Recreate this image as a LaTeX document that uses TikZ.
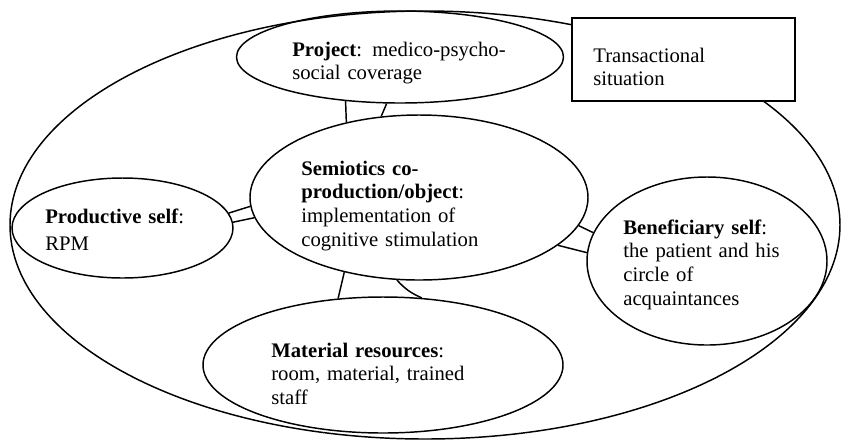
\documentclass[tikz,border=0pt]{standalone}
\usepackage{fontspec}
\setmainfont{Liberation Serif}
\usetikzlibrary{shapes.geometric}
\newcommand{\pxunit}{0.58pt}
\tikzset{
  bubble/.style={draw, ellipse, inner sep=0pt, line width=0.85pt},
  sitbox/.style={draw, rectangle, fill=white, inner sep=0pt, line width=0.85pt},
  lbl/.style={anchor=base west, inner sep=0pt, align=left, text width=140pt,
    font=\fontsize{12}{13.9}\selectfont},
  link/.style={line width=0.85pt}
}
\begin{document}
\begin{tikzpicture}[x=\pxunit, y=-\pxunit]
\useasboundingbox (0,0) rectangle (842,441);
\node[bubble, minimum width=830*\pxunit, minimum height=428*\pxunit] (situation) at (425,225) {};
\node[bubble, minimum width=327*\pxunit, minimum height=92*\pxunit] (project) at (400,57) {};
\node[bubble, minimum width=338*\pxunit, minimum height=165*\pxunit] (semio) at (419,197.5) {};
\node[bubble, minimum width=221*\pxunit, minimum height=100*\pxunit] (prod) at (122.5,228) {};
\node[bubble, minimum width=240*\pxunit, minimum height=168*\pxunit] (benef) at (707,261) {};
\node[bubble, minimum width=360*\pxunit, minimum height=136*\pxunit] (mat) at (383,365) {};
\node[sitbox, minimum width=223*\pxunit, minimum height=83*\pxunit] (trans) at (683.5,59.5) {};

\node[lbl] (projecttxt) at (292,56) {\textbf{Project}: medico-psycho-\\social coverage};
\node[lbl] (transtxt) at (593,62) {Transactional\\situation};
\node[lbl] (semiotxt) at (301,175) {\textbf{Semiotics co-}\\\textbf{production/object}:\\implementation of\\cognitive stimulation};
\node[lbl] (prodtxt) at (45,223) {\textbf{Productive self}:\\[2.3pt]RPM};
\node[lbl] (beneftxt) at (623,234) {\textbf{Beneficiary self}:\\the patient and his\\circle of\\acquaintances};
\node[lbl] (mattxt) at (271,357) {\textbf{Material resources}:\\room, material, trained\\staff};

\draw[link] (project.219) -- (semio.134);
\draw[link] (project.254) -- (semio.115);
\draw[link] (prod.8) -- (semio.183);
\draw[link] (prod.3) -- (semio.187);
\draw[link] (semio.350) -- (benef.166);
\draw[link] (semio.341) -- (benef.176);
\draw[link] (semio.225) -- (mat.124);
\draw[link] (semio.255) to[bend right=12] (mat.60);
\end{tikzpicture}
\end{document}
